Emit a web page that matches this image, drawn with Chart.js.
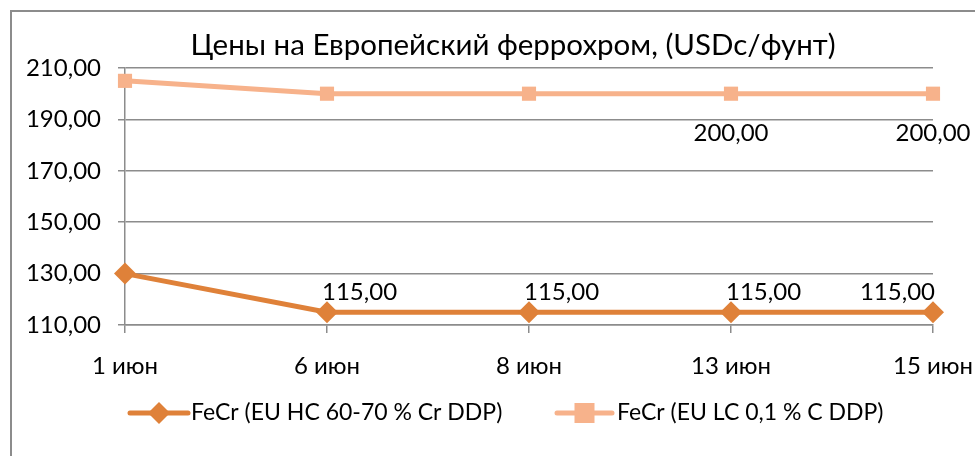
<!DOCTYPE html>
<html>
<head>
<meta charset="utf-8">
<script src="https://cdn.jsdelivr.net/npm/chart.js@4.4.1/dist/chart.umd.min.js"></script>
<style>
html,body{margin:0;padding:0;background:#fff;}
#wrap{position:relative;width:975px;height:456px;}
</style>
</head>
<body>
<div id="wrap"><canvas id="c" width="975" height="456"></canvas></div>
<script>
const chartTitle = 'Цены на Европейский феррохром, (USDc/фунт)';
const categories = ['1 июн', '6 июн', '8 июн', '13 июн', '15 июн'];
const seriesNames = ['FeCr (EU HC 60-70 % Cr DDP)', 'FeCr (EU LC 0,1 % C DDP)'];
const hcValues = [130, 115, 115, 115, 115];
const lcValues = [205, 200, 200, 200, 200];
const yTicks = [110, 130, 150, 170, 190, 210];

const FONT = 'Lato, "Open Sans", sans-serif';
const fmt = v => v.toFixed(2).replace('.', ',');

// which points carry a value label (style/placement, not data)
const labelSpecs = [
  {ds:0, i:1, pos:'above', align:'left'},
  {ds:0, i:2, pos:'above', align:'left'},
  {ds:0, i:3, pos:'above', align:'left'},
  {ds:0, i:4, pos:'above', align:'right'},
  {ds:1, i:3, pos:'below', align:'center'},
  {ds:1, i:4, pos:'below', align:'center'}
];

const decor = {
  id: 'decor',
  beforeDraw(chart) {
    const ctx = chart.ctx;
    ctx.save();
    ctx.fillStyle = '#fff';
    ctx.fillRect(0, 0, chart.width, chart.height);
    ctx.strokeStyle = '#8c8c8c';
    ctx.lineWidth = 2;
    ctx.strokeRect(11, 11, 1200, 1200);
    ctx.restore();
  },
  afterDraw(chart) {
    const ctx = chart.ctx;
    ctx.save();
    // title
    ctx.fillStyle = '#000';
    ctx.font = '29.5px ' + FONT;
    ctx.textAlign = 'center';
    ctx.textBaseline = 'middle';
    ctx.fillText(chartTitle, 513, 45);

    // data labels
    ctx.font = '24px ' + FONT;
    labelSpecs.forEach(s => {
      const pt = chart.getDatasetMeta(s.ds).data[s.i];
      const v = chart.data.datasets[s.ds].data[s.i];
      const txt = fmt(v);
      let x = pt.x;
      if (s.align === 'left') { ctx.textAlign = 'left'; x = pt.x - 5; }
      else if (s.align === 'right') { ctx.textAlign = 'right'; x = pt.x + 2; }
      else ctx.textAlign = 'center';
      ctx.textBaseline = 'middle';
      const y = s.pos === 'above' ? pt.y - 20 : pt.y + 40;
      ctx.fillText(txt, x, y);
    });

    // legend
    const items = [
      {ds:0, x0:130, x1:188, tx:191},
      {ds:1, x0:557, x1:612, tx:617}
    ];
    const ly = 413;
    items.forEach(it => {
      const d = chart.data.datasets[it.ds];
      ctx.strokeStyle = d.borderColor;
      ctx.lineWidth = d.borderWidth;
      ctx.lineCap = 'round';
      ctx.beginPath();
      ctx.moveTo(it.x0, ly); ctx.lineTo(it.x1, ly); ctx.stroke();
      const cx = (it.x0 + it.x1) / 2;
      ctx.fillStyle = d.pointBackgroundColor;
      if (d.pointStyle === 'rectRot') {
        ctx.beginPath();
        ctx.moveTo(cx, ly - 11); ctx.lineTo(cx + 11, ly); ctx.lineTo(cx, ly + 11); ctx.lineTo(cx - 11, ly);
        ctx.closePath(); ctx.fill();
      } else {
        ctx.fillRect(cx - 10, ly - 10, 20, 20);
      }
      ctx.fillStyle = '#000';
      ctx.font = '23px ' + FONT;
      ctx.textAlign = 'left';
      ctx.textBaseline = 'middle';
      ctx.fillText(seriesNames[it.ds], it.tx, ly);
    });
    ctx.restore();
  }
};

const DARK = '#DF8139';
const LIGHT = '#F7B28B';

new Chart(document.getElementById('c'), {
  type: 'line',
  data: {
    labels: categories,
    datasets: [
      {
        label: seriesNames[0], data: hcValues,
        borderColor: DARK, backgroundColor: DARK,
        pointBackgroundColor: DARK, pointBorderColor: DARK,
        borderWidth: 5, pointStyle: 'rectRot', pointRadius: 11, pointBorderWidth: 0,
        tension: 0
      },
      {
        label: seriesNames[1], data: lcValues,
        borderColor: LIGHT, backgroundColor: LIGHT,
        pointBackgroundColor: LIGHT, pointBorderColor: LIGHT,
        borderWidth: 5, pointStyle: 'rect', pointRadius: 10, pointBorderWidth: 0,
        tension: 0
      }
    ]
  },
  options: {
    responsive: false,
    animation: false,
    devicePixelRatio: 1,
    layout: { padding: { left: 0, right: 42, top: 68, bottom: 71 } },
    plugins: { legend: { display: false }, title: { display: false }, tooltip: { enabled: false } },
    scales: {
      x: {
        type: 'category',
        offset: false,
        grid: { display: true, drawOnChartArea: false, drawTicks: true, tickLength: 8, color: '#8c8c8c', lineWidth: 1.5 },
        border: { display: true, color: '#8c8c8c', width: 1.5 },
        ticks: { color: '#000', font: { family: FONT, size: 24 }, padding: 19, maxRotation: 0, autoSkip: false },
        afterFit(s) { s.height = 60; s.paddingLeft = 0; s.paddingRight = 0; }
      },
      y: {
        min: yTicks[0], max: yTicks[yTicks.length - 1],
        afterBuildTicks(s) { s.ticks = yTicks.map(v => ({ value: v })); },
        grid: { display: true, drawOnChartArea: true, drawTicks: true, tickLength: 7, color: '#8c8c8c', lineWidth: 1.5 },
        border: { display: true, color: '#8c8c8c', width: 1.5 },
        ticks: { color: '#000', font: { family: FONT, size: 24 }, padding: 17, callback: v => fmt(v) },
        afterFit(s) { s.width = 125; s.paddingTop = 0; s.paddingBottom = 0; }
      }
    }
  },
  plugins: [decor]
});
</script>
</body>
</html>
